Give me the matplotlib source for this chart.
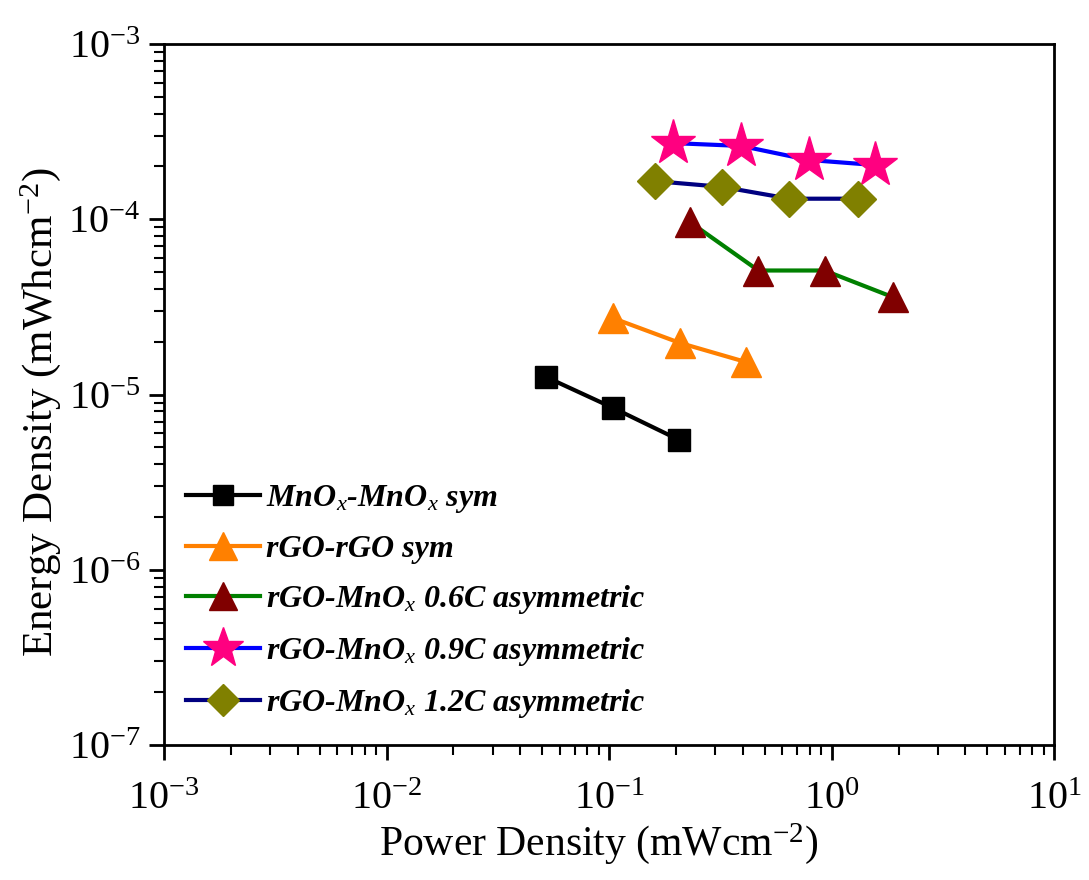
import numpy as np
import matplotlib
matplotlib.use("Agg")
import matplotlib.pyplot as plt

plt.rcParams["font.family"] = "Liberation Serif"
plt.rcParams["mathtext.fontset"] = "custom"
plt.rcParams["mathtext.rm"] = "Liberation Serif"
plt.rcParams["mathtext.it"] = "Liberation Serif:italic"
plt.rcParams["mathtext.bf"] = "Liberation Serif:bold"

# data (power density mW/cm2, energy density mWh/cm2)
mno_sym_x = [0.052, 0.104, 0.207]
mno_sym_y = [1.26e-5, 8.4e-6, 5.5e-6]

rgo_sym_x = [0.104, 0.208, 0.414]
rgo_sym_y = [2.73e-5, 1.97e-5, 1.53e-5]

asym06_x = [0.232, 0.469, 0.93, 1.88]
asym06_y = [9.6e-5, 5.1e-5, 5.1e-5, 3.6e-5]

asym09_x = [0.194, 0.393, 0.788, 1.56]
asym09_y = [2.72e-4, 2.62e-4, 2.18e-4, 2.04e-4]

asym12_x = [0.161, 0.323, 0.647, 1.31]
asym12_y = [1.65e-4, 1.53e-4, 1.31e-4, 1.31e-4]

labels = [
    r"MnO$_x$-MnO$_x$ sym",
    "rGO-rGO sym",
    r"rGO-MnO$_x$ 0.6C asymmetric",
    r"rGO-MnO$_x$ 0.9C asymmetric",
    r"rGO-MnO$_x$ 1.2C asymmetric",
]

fig = plt.figure(figsize=(10.89, 8.8), dpi=100)
ax = fig.add_axes([0.1506, 0.1534, 0.8173, 0.7966])

ax.plot(mno_sym_x, mno_sym_y, "-s", color="black", lw=3, ms=16,
        mfc="black", mec="black", label=labels[0])
ax.plot(rgo_sym_x, rgo_sym_y, "-^", color="#FF8000", lw=3, ms=22,
        mfc="#FF8000", mec="#FF8000", label=labels[1])
ax.plot(asym06_x, asym06_y, "-^", color="#008000", lw=3, ms=22,
        mfc="#800000", mec="#800000", label=labels[2])
ax.plot(asym09_x, asym09_y, "-*", color="#0000FF", lw=3, ms=34,
        mfc="#FF0080", mec="#FF0080", label=labels[3])
ax.plot(asym12_x, asym12_y, "-D", color="#000080", lw=3, ms=18,
        mfc="#808000", mec="#808000", label=labels[4])

ax.set_xscale("log")
ax.set_yscale("log")
ax.set_xlim(1e-3, 1e1)
ax.set_ylim(1e-7, 1e-3)

for s in ax.spines.values():
    s.set_linewidth(2)
ax.tick_params(which="major", direction="out", length=11, width=2, labelsize=29,
               top=False, right=False, pad=6)
ax.tick_params(which="minor", direction="out", length=7, width=1.5,
               top=False, right=False)
ax.tick_params(axis="x", which="major", pad=15)

ax.set_xlabel(r"Power Density (mWcm$^{-2}$)", fontsize=30)
ax.set_ylabel(r"Energy Density (mWhcm$^{-2}$)", fontsize=31)
ax.xaxis.set_label_coords(0.488, -0.108)
ax.yaxis.set_label_coords(-0.113, 0.474)

leg = ax.legend(loc="upper left", bbox_to_anchor=(0.0, 0.405), frameon=False,
                prop={"size": 23, "style": "italic", "weight": "bold"},
                handlelength=2.3, handletextpad=0.2, labelspacing=0.6,
                borderaxespad=0.3, markerscale=0.9)

fig.savefig("out.png", dpi=100)
